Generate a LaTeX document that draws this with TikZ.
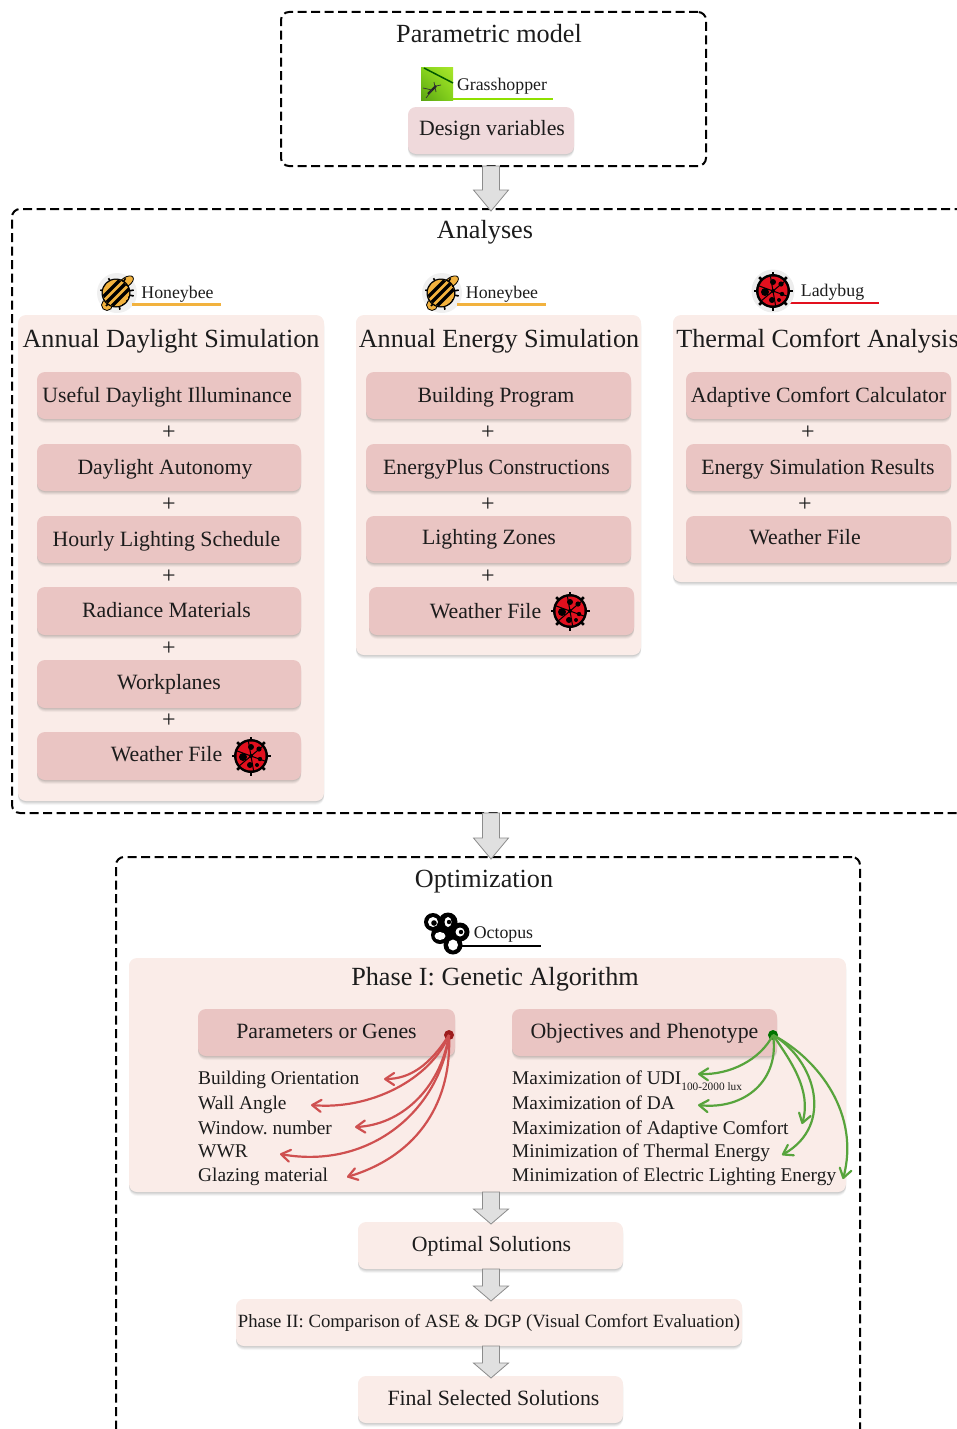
\documentclass[tikz,border=0pt]{standalone}
\usepackage{fontspec}
\setmainfont{Liberation Serif}
\usetikzlibrary{calc,shadows,arrows.meta,shadings}
\definecolor{panelc}{HTML}{FAECE8}
\definecolor{boxc}{HTML}{EAC5C3}
\definecolor{dvc}{HTML}{EFD9DB}
\definecolor{inkc}{HTML}{1C1C1C}
\definecolor{beeorange}{HTML}{F2B23E}
\definecolor{bugred}{HTML}{E2101E}
\definecolor{redarrow}{HTML}{CF5050}
\definecolor{greenarrow}{HTML}{57A43C}
\definecolor{hopperlow}{HTML}{5AA312}
\definecolor{hopperhi}{HTML}{A8E62A}
\definecolor{hoppermid}{HTML}{84D21C}
\definecolor{hopperline}{HTML}{8FE000}
\tikzset{
  softshadow/.style={
    general shadow={shadow yshift=-4pt,opacity=.03,fill=black},
    general shadow={shadow yshift=-3pt,opacity=.05,fill=black},
    general shadow={shadow yshift=-2pt,opacity=.06,fill=black},
    general shadow={shadow yshift=-1pt,opacity=.07,fill=black}},
  basebox/.style={rounded corners=8pt,inner sep=0pt,outer sep=0pt,text=inkc,align=center,text height=15pt,text depth=4.5pt},
  down1/.style={text depth=2.5pt},
  down2/.style={text depth=.5pt},
  panel/.style={basebox,fill=panelc,softshadow},
  darkbox/.style={basebox,fill=boxc,softshadow,font=\fontsize{21.8}{24}\selectfont},
  lightbox/.style={basebox,fill=panelc,softshadow,font=\fontsize{21.8}{24}\selectfont},
  dvbox/.style={basebox,fill=dvc,softshadow,font=\fontsize{21.8}{24}\selectfont},
  frameline/.style={draw=black,line width=2pt,dash pattern=on 9pt off 4.5pt,rounded corners=8pt,inner sep=0pt,outer sep=0pt},
  titletext/.style={text=inkc,inner sep=0pt,text height=18pt,text depth=6pt,font=\fontsize{26.2}{28}\selectfont},
  tooltext/.style={text=inkc,inner sep=0pt,text height=12pt,text depth=4pt,font=\fontsize{17.8}{20}\selectfont},
  listtext/.style={text=inkc,inner sep=0pt,anchor=west,text height=13pt,text depth=4pt,font=\fontsize{19.4}{22}\selectfont},
  plustext/.style={text=inkc,inner sep=0pt,font=\fontsize{24}{26}\selectfont},
  blockarr/.style={draw=black!45,line width=.8pt,fill=black!12,line join=miter},
  redcurve/.style={draw=redarrow,line width=2.2pt,-{Straight Barb[length=9pt,width=12pt,round]}},
  greencurve/.style={draw=greenarrow,line width=2.2pt,-{Straight Barb[length=9pt,width=12pt,round]}},
  beeicon/.pic={
    \fill[black!6] (0,0) circle (20);
    \fill[beeorange,draw=black,line width=.8pt,rotate around={35:(9,-11)}] (9,-11) ellipse (8.5 and 4.5);
    \fill[beeorange,draw=black,line width=.8pt] (-10,12) circle (5.5);
    \foreach \a in {10,80,130,190,240,300,350}{\draw[black,line width=1.6pt] (\a:11) -- (\a:17);}
    \fill[black] (-1,0) circle (14.5);
    \begin{scope}
      \clip (-1,0) circle (13.2);
      \fill[beeorange] (-1,0) circle (13.2);
      \foreach \d in {-10,-1,8}{\draw[black,line width=3.4pt] (\d-14,14) -- (\d+14,-14);}
    \end{scope}
  },
  bugicon/.pic={
    \foreach \a in {0,45,...,315}{\draw[black,line width=2.6pt] (\a:14) -- (\a:19.5);}
    \fill[black] (0,0) circle (17);
    \fill[bugred] (0,0) circle (14.5);
    \foreach \a in {20,80,140,200,260,320}{\draw[black,line width=1pt] (0,0) -- (\a:15);}
    \fill[black] (-8,1) circle (4);
    \fill[black] (0,-9) circle (3);
    \fill[black] (8,-7) circle (2.6);
    \fill[black] (9,3) circle (2.2);
    \fill[black] (-1,9) circle (3);
    \fill[black] (6,9) circle (2);
    \fill[black] (0,0) circle (2);
  },
  octoicon/.pic={
    \foreach \x/\y/\r in {-15/-11/9,0/-11/9.5,12/-1/9.5,-8/2/9,5/12/9.5,3/-1/8}{\fill[black] (\x,\y) circle (\r);}
    \fill[white] (-8,3) ellipse (5.5 and 4);
    \fill[white] (5,12) ellipse (5 and 5.5);
    \fill[white] (-15,-11) circle (5);
    \fill[white] (0,-11) ellipse (3.5 and 5);
    \fill[white] (12,-1) circle (4.5);
    \fill[black] (-14,-10) circle (2.8);
    \fill[black] (1,-11) circle (2.2);
    \fill[black] (13,-1) circle (2.2);
  },
  hoppericon/.pic={
    \shade[lower left=hopperlow,lower right=hoppermid,upper left=hoppermid,upper right=hopperhi] (0,0) rectangle (32,32);
    \draw[black!65!green,line width=1.5pt] (3,0) -- (32,15);
    \draw[black!85,line width=2.2pt] (7,26) -- (15,18);
    \draw[black!80,line width=.7pt] (2,20) -- (11,22) (5,30) -- (11,22) (13,14) -- (15,24) (15,18) -- (20,17);
  }
}
% \tbox{name}{x1}{y1}{x2}{y2}{style}{double text offset}{text}
\newcommand{\tbox}[8]{\node[#6,minimum width={(#4-#2)*1pt},minimum height={(#5-#3)*1pt}] (#1) at ({(#2+#4)/2},{(#3+#5)/2}) {\kern#7pt #8};}
% \blockarrow{from}{to}{axis coordinate}{head height}
\newcommand{\blockarrow}[4]{\draw[blockarr]
  ($(#3 |- #1.south)+(-8.5,0)$) -- ($(#3 |- #2.north)+(-8.5,{2-#4})$) -- ($(#3 |- #2.north)+(-17.5,{2-#4})$)
  -- ($(#3 |- #2.north)+(0,2)$) -- ($(#3 |- #2.north)+(17.5,{2-#4})$) -- ($(#3 |- #2.north)+(8.5,{2-#4})$)
  -- ($(#3 |- #1.south)+(8.5,0)$) -- cycle;}
\frenchspacing
\begin{document}
\begin{tikzpicture}[x=1pt,y=-1pt]
\useasboundingbox (0,0) rectangle (957,1429);
\clip (0,0) rectangle (957,1429);
\coordinate (axis) at (491,0);
% frames
\node[frameline,minimum width=425pt,minimum height=154pt] (fparam) at (493.5,89) {};
\node[frameline,minimum width=1000pt,minimum height=604pt] (fanalyses) at (512,511) {};
\node[frameline,minimum width=744pt,minimum height=700pt] (fopt) at (488,1207) {};
% parametric
\node[titletext] (tparam) at (489,36.5) {Parametric model};
\pic at (421,68) {hoppericon};
\node[tooltext] (tgrass) at (502,86) {Grasshopper};
\coordinate (gl1) at (453,99); \coordinate (gl2) at (553,99);
\draw[draw=hopperline,line width=2.2pt] (gl1) -- (gl2);
\tbox{design}{408}{107}{574}{154}{dvbox}{2}{Design variables}
% analyses
\node[titletext] (tanalyses) at (485,232.5) {Analyses};
\pic at (117,293) {beeicon};
\node[tooltext] (thb1) at (177.5,294.3) {Honeybee};
\coordinate (hb1a) at (132,304.5); \coordinate (hb1b) at (221,304.5);
\draw[beeorange,line width=2.2pt] (hb1a) -- (hb1b);
\pic at (442,293) {beeicon};
\node[tooltext] (thb2) at (502,294.3) {Honeybee};
\coordinate (hb2a) at (457,304.5); \coordinate (hb2b) at (546,304.5);
\draw[beeorange,line width=2.2pt] (hb2a) -- (hb2b);
\coordinate (lb1) at (790,303); \coordinate (lb2) at (879,303);
\draw[bugred,line width=2.6pt] (lb1) -- (lb2);
\fill[black!7] (773,291) circle (21.5);
\pic at (773,291) {bugicon};
\node[tooltext] (tlb) at (832.5,292) {Ladybug};
% panel 1
\tbox{p1}{18}{315}{324}{801}{panel}{0}{}
\node[titletext] (t1) at (171,341.5) {Annual Daylight Simulation};
\tbox{a1}{37}{372}{301}{419}{darkbox,down2}{-4}{Useful Daylight Illuminance}
\tbox{a2}{37}{444}{301}{491}{darkbox,down2}{-8}{Daylight Autonomy}
\tbox{a3}{37}{516}{301}{563}{darkbox,down2}{-5}{Hourly Lighting Schedule}
\tbox{a4}{37}{587}{301}{635}{darkbox,down1}{-5}{Radiance Materials}
\tbox{a5}{37}{660}{301}{708}{darkbox}{0}{Workplanes}
\tbox{a6}{37}{732}{301}{780}{darkbox}{-5}{Weather File}
\pic at (251,756) {bugicon};
\foreach \n/\y in {p11/433,p12/505,p13/577,p14/649,p15/721}{\node[plustext] (\n) at (169,\y) {+};}
% panel 2
\tbox{p2}{356}{315}{641}{655}{panel}{0}{}
\node[titletext] (t2) at (499,341.5) {Annual Energy Simulation};
\tbox{b1}{366}{372}{631}{419}{darkbox,down2}{-5}{Building Program}
\tbox{b2}{366}{444}{631}{491}{darkbox,down2}{-4}{EnergyPlus Constructions}
\tbox{b3}{366}{516}{631}{563}{darkbox}{-19}{Lighting Zones}
\tbox{b4}{369}{587}{634}{635}{darkbox,down2}{-32}{Weather File}
\pic at (570,611) {bugicon};
\foreach \n/\y in {p21/433,p22/505,p23/577}{\node[plustext] (\n) at (488,\y) {+};}
% panel 3
\tbox{p3}{673}{315}{1000}{582}{panel}{0}{}
\node[titletext] (t3) at (817.5,341.5) {Thermal Comfort Analysis};
\tbox{c1}{686}{372}{951}{419}{darkbox,down2}{0}{Adaptive Comfort Calculator}
\tbox{c2}{686}{444}{951}{491}{darkbox,down2}{-1}{Energy Simulation Results}
\tbox{c3}{686}{516}{951}{563}{darkbox}{-27}{Weather File}
\node[plustext] (p31) at (808,433) {+};
\node[plustext] (p32) at (805,505) {+};
% optimization
\node[titletext] (topt) at (484,881) {Optimization};
\pic at (448,933) {octoicon};
\node[tooltext] (toct) at (503.5,934.3) {Octopus};
\coordinate (oc1) at (461,946); \coordinate (oc2) at (541,946);
\draw[black,line width=2.6pt] (oc1) -- (oc2);
\tbox{phase}{129}{958}{846}{1192}{panel}{0}{}
\node[titletext] (tphase) at (495,979.5) {Phase I: Genetic Algorithm};
\tbox{genes}{198}{1009}{455}{1056}{darkbox,down1}{0}{Parameters or Genes}
\tbox{objs}{512}{1009}{777}{1056}{darkbox,down1}{0}{Objectives and Phenotype}
\node[listtext] (g1) at (198,1079.5) {Building Orientation};
\node[listtext] (g2) at (198,1104.5) {Wall Angle};
\node[listtext] (g3) at (198,1129.5) {Window. number};
\node[listtext] (g4) at (198,1153.2) {WWR};
\node[listtext] (g5) at (198,1177.2) {Glazing material};
\node[listtext] (o1) at (512,1079.5) {Maximization of UDI\raisebox{-6pt}{\fontsize{11.3}{12}\selectfont 100-2000 lux}};
\node[listtext] (o2) at (512,1104.5) {Maximization of DA};
\node[listtext] (o3) at (512,1129.5) {Maximization of Adaptive Comfort};
\node[listtext] (o4) at (512,1153.2) {Minimization of Thermal Energy};
\node[listtext] (o5) at (512,1177.2) {Minimization of Electric Lighting Energy};
% curved connectors
\node[circle,fill=red!55!black!85!pink,minimum size=10pt,inner sep=0pt] (rdot) at (449,1035) {};
\node[circle,fill=green!45!black,minimum size=10pt,inner sep=0pt] (gdot) at (773,1035) {};
\coordinate (r1) at (384,1079); \coordinate (r2) at (311,1105); \coordinate (r3) at (355,1127);
\coordinate (r4) at (280,1154); \coordinate (r5) at (347,1177);
\draw[redcurve] (rdot.center) .. controls (430,1065) and (410,1079) .. (r1);
\draw[redcurve] (rdot.center) .. controls (430,1080) and (370,1110) .. (r2);
\draw[redcurve] (rdot.center) .. controls (440,1090) and (400,1125) .. (r3);
\draw[redcurve] (rdot.center) .. controls (440,1110) and (370,1170) .. (r4);
\draw[redcurve] (rdot.center) .. controls (452,1100) and (420,1155) .. (r5);
\coordinate (e1) at (698,1074); \coordinate (e2) at (698,1105); \coordinate (e3) at (802,1124);
\coordinate (e4) at (782,1155); \coordinate (e5) at (843,1179);
\draw[greencurve] (gdot.center) .. controls (760,1060) and (730,1075) .. (e1);
\draw[greencurve] (gdot.center) .. controls (780,1080) and (745,1110) .. (e2);
\draw[greencurve] (gdot.center) .. controls (790,1060) and (812,1090) .. (e3);
\draw[greencurve] (gdot.center) .. controls (815,1060) and (835,1125) .. (e4);
\draw[greencurve] (gdot.center) .. controls (820,1060) and (860,1115) .. (e5);
% lower boxes
\tbox{optimal}{358}{1222}{623}{1269}{lightbox,down1}{2}{Optimal Solutions}
\tbox{phase2}{236}{1299}{742}{1346}{lightbox}{0}{\fontsize{18.7}{22}\selectfont Phase II: Comparison of ASE \& DGP (Visual Comfort Evaluation)}
\tbox{final}{358}{1376}{623}{1423}{lightbox,down1}{6}{Final Selected Solutions}
% block arrows
\blockarrow{fparam}{fanalyses}{axis}{21}
\blockarrow{fanalyses}{fopt}{axis}{21}
\blockarrow{phase}{optimal}{axis}{15}
\blockarrow{optimal}{phase2}{axis}{15}
\blockarrow{phase2}{final}{axis}{15}
\end{tikzpicture}
\end{document}
